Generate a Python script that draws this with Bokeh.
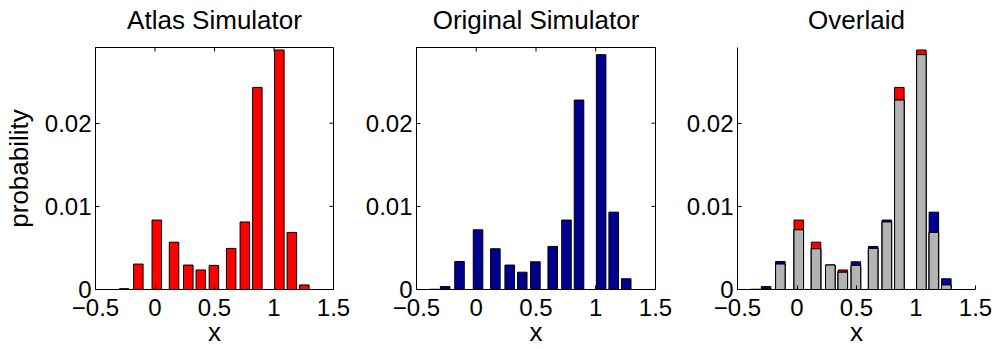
import numpy as np
from bokeh.plotting import figure
from bokeh.layouts import row
from bokeh.models import FixedTicker, Range1d, LinearAxis
from bokeh.embed import file_html
from bokeh.resources import INLINE

# ---- data ----
x_centers = [-0.35, -0.26, -0.14, 0.015, 0.16, 0.28, 0.385, 0.495, 0.64, 0.755, 0.86, 1.045, 1.15, 1.255, 1.40]
atlas = [0.0, 0.0001, 0.00306, 0.00835, 0.00569, 0.00294, 0.00235, 0.0029, 0.00494, 0.00812, 0.0243, 0.0288, 0.00686, 0.00055, 0.0]
original = [0.00003, 0.00035, 0.00337, 0.00718, 0.0049, 0.00294, 0.00208, 0.00333, 0.00518, 0.00835, 0.02278, 0.02824, 0.0093, 0.00129, 0.0]
x_ticks = [-0.5, 0, 0.5, 1, 1.5]
x_tick_labels = ["\u22120.5", "0", "0.5", "1", "1.5"]
y_ticks = [0, 0.01, 0.02]
y_tick_labels = ["0", "0.01", "0.02"]
titles = ["Atlas Simulator", "Original Simulator", "Overlaid"]
x_label = "x"
y_label = "probability"

RED = "#FF0000"
BLUE = "#00008F"
GRAY = "#B3B3B3"
FONT = "Liberation Sans"
BAR_W = 0.08
X_MIN, X_MAX = -0.5, 1.5
Y_MAX = 0.0291


def style_axes(p, boxed, title, ylabel=None):
    xa = p.xaxis[0]
    ya = p.yaxis[0]
    xa.ticker = FixedTicker(ticks=x_ticks)
    xa.major_label_overrides = {t: l for t, l in zip(x_ticks, x_tick_labels)}
    ya.ticker = FixedTicker(ticks=y_ticks)
    ya.major_label_overrides = {t: l for t, l in zip(y_ticks, y_tick_labels)}
    for ax in (xa, ya):
        ax.major_tick_in = 4
        ax.major_tick_out = 0
        ax.minor_tick_line_color = None
        ax.major_label_text_font = FONT
        ax.major_label_text_font_size = "24px"
        ax.major_label_text_color = "black"
        ax.axis_line_color = "black"
        ax.major_tick_line_color = "black"
        ax.axis_label_text_font = FONT
        ax.axis_label_text_font_size = "26px"
        ax.axis_label_text_font_style = "normal"
        ax.axis_label_text_color = "black"
    xa.major_label_standoff = 9
    xa.major_label_text_line_height = 0.7
    ya.major_label_standoff = 4
    xa.axis_label = x_label
    xa.axis_label_text_line_height = 0.7
    xa.axis_label_standoff = -2
    if ylabel:
        ya.axis_label = ylabel
        ya.axis_label_standoff = 8
    if boxed:
        # inward tick marks on the top and right edges of the box
        p.scatter(x=x_ticks, y=[Y_MAX] * len(x_ticks), marker="dash", angle=np.pi / 2,
                  size=8, line_color="black", line_width=1)
        p.scatter(x=[X_MAX] * len(y_ticks), y=y_ticks, marker="dash",
                  size=8, line_color="black", line_width=1)
    p.xgrid.visible = False
    p.ygrid.visible = False
    # title drawn as the label of a bare axis above the frame
    top = LinearAxis(ticker=FixedTicker(ticks=[]), axis_label=title)
    top.axis_line_color = None
    top.major_tick_line_color = None
    top.minor_tick_line_color = None
    top.axis_label_text_font = FONT
    top.axis_label_text_font_size = "26px"
    top.axis_label_text_font_style = "normal"
    top.axis_label_text_color = "black"
    top.axis_label_text_line_height = 0.9
    top.axis_label_standoff = 13
    p.add_layout(top, "above")


def make_fig(title, width, left, right, boxed, ylabel=None):
    p = figure(width=width, height=349, output_backend="svg", toolbar_location=None,
               x_range=Range1d(X_MIN, X_MAX), y_range=Range1d(0, Y_MAX),
               min_border_left=left, min_border_right=right, min_border_top=47,
               min_border_bottom=55)
    p.outline_line_color = "black" if boxed else None
    p.background_fill_color = "white"
    p.border_fill_color = "white"
    style_axes(p, boxed, title, ylabel)
    return p


p1 = make_fig(titles[0], 355, 95, 22, True, y_label)
p1.vbar(x=x_centers, top=atlas, width=BAR_W, bottom=0, fill_color=RED, line_color="black", line_width=1)

p2 = make_fig(titles[1], 322, 61, 22, True)
p2.vbar(x=x_centers, top=original, width=BAR_W, bottom=0, fill_color=BLUE, line_color="black", line_width=1)

p3 = make_fig(titles[2], 319, 60, 21, False)
p3.vbar(x=x_centers, top=atlas, width=BAR_W, bottom=0, fill_color=RED, line_color="black", line_width=1)
p3.vbar(x=x_centers, top=original, width=BAR_W, bottom=0, fill_color=BLUE, line_color="black", line_width=1)
overlap = np.minimum(np.array(atlas), np.array(original))
p3.vbar(x=x_centers, top=overlap, width=BAR_W, bottom=0, fill_color=GRAY, line_color="black", line_width=1)

layout = row(p1, p2, p3, spacing=0)
open("out.html", "w").write(file_html(layout, INLINE))
